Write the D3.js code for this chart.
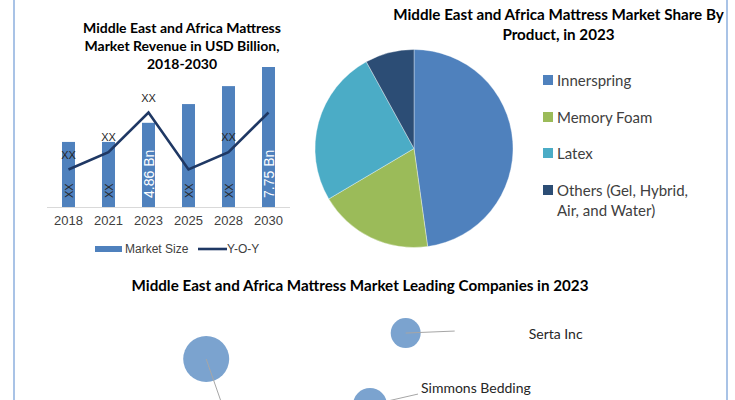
<!DOCTYPE html>
<html>
<head>
<meta charset="utf-8">
<script src="https://cdn.jsdelivr.net/npm/d3@7"></script>
<style>
  html, body { margin: 0; padding: 0; background: #fff; }
  svg { display: block; }
</style>
</head>
<body>
<svg id="chart" width="735" height="400"></svg>
<script>
// ---------- DATA ----------
const years = ["2018", "2021", "2023", "2025", "2028", "2030"];
const marketSize = [3.87, 3.87, 4.86, 5.83, 6.76, 7.75];
const marketLabels = ["XX", "XX", "4.86 Bn", "XX", "XX", "7.75 Bn"];
const yoy = [2.5, 3.65, 6.3, 2.5, 3.65, 6.3];
const yoyLabels = ["XX", "XX", "XX", "", "XX", ""];

const products = ["Innerspring", "Memory Foam", "Latex", "Others (Gel, Hybrid,|Air, and Water)"];
const productShare = [47.8, 18.7, 25.5, 8.0];

const companies = ["", "Serta Inc", "Simmons Bedding"];
const companyX = [2.66, 5.51, 5.0];
const companyY = [5.4, 7.13, 2.33];
const companySize = [10, 4.25, 5.46];

// ---------- STYLE ----------
const barColor = "#4f81bd";
const lineColor = "#1f3864";
const pieColors = ["#4f81bd", "#9bbb59", "#4bacc6", "#2c4d75"];
const bubbleColor = "#7ba3cf";
const titleFont = "Lato, 'Open Sans', sans-serif";
const axisFont = "'Liberation Sans', Arial, sans-serif";

const svg = d3.select("#chart");
svg.append("rect").attr("width", 735).attr("height", 400).attr("fill", "#fff");

// frame lines
svg.append("line").attr("x1", 14).attr("x2", 14).attr("y1", 0).attr("y2", 400)
  .attr("stroke", "#a9c3e6").attr("stroke-width", 2);
svg.append("line").attr("x1", 727).attr("x2", 727).attr("y1", 0).attr("y2", 400)
  .attr("stroke", "#a9c3e6").attr("stroke-width", 2);

// ---------- BAR + LINE CHART ----------
const g1 = svg.append("g");
["Middle East and Africa Mattress", "Market Revenue in USD Billion,", "2018-2030"].forEach((t, i) => {
  g1.append("text").attr("x", 182).attr("y", 27 + i * 18.3)
    .attr("text-anchor", "middle").attr("dominant-baseline", "central")
    .attr("font-family", titleFont).attr("font-weight", "bold").attr("font-size", 14)
    .attr("fill", "#000").text(t);
});

const x = d3.scaleBand().domain(years).range([48.5, 288.5]).paddingInner(0.675).paddingOuter(0.3375);
const y = d3.scaleLinear().domain([0.5, 7.75]).range([207, 67]);
const y2 = d3.scaleLinear().domain([0, 10]).range([207, 57]);

g1.selectAll("rect.bar").data(years).join("rect").attr("class", "bar")
  .attr("x", d => x(d)).attr("width", x.bandwidth())
  .attr("y", (d, i) => y(marketSize[i]))
  .attr("height", (d, i) => y(0.5) - y(marketSize[i]))
  .attr("fill", barColor);

// x axis
const xAxis = g1.append("g").attr("transform", "translate(0,207)")
  .call(d3.axisBottom(x).tickSize(0).tickPadding(9));
xAxis.select(".domain").remove();
g1.append("line").attr("x1", 47).attr("x2", 290).attr("y1", 207.5).attr("y2", 207.5)
  .attr("stroke", "#d9d9d9").attr("stroke-width", 1);
xAxis.selectAll("text").attr("font-family", axisFont).attr("font-size", 13)
  .attr("fill", "#404040");

// bar labels (inside base, rotated)
g1.selectAll("text.blab").data(years).join("text").attr("class", "blab")
  .attr("transform", d => `translate(${x(d) + x.bandwidth() / 2},198) rotate(-90)`)
  .attr("text-anchor", "start").attr("dominant-baseline", "central")
  .attr("font-family", axisFont)
  .attr("font-size", (d, i) => marketLabels[i] === "XX" ? 11 : 14)
  .attr("fill", (d, i) => marketLabels[i] === "XX" ? "#262626" : "#fff")
  .text((d, i) => marketLabels[i]);

// yoy line
const line = d3.line().x((d, i) => x(years[i]) + x.bandwidth() / 2).y(d => y2(d));
g1.append("path").datum(yoy).attr("d", line).attr("fill", "none")
  .attr("stroke", lineColor).attr("stroke-width", 2.6).attr("stroke-linejoin", "miter");

g1.selectAll("text.ylab").data(years).join("text").attr("class", "ylab")
  .attr("x", d => x(d) + x.bandwidth() / 2)
  .attr("y", (d, i) => y2(yoy[i]) - 15)
  .attr("text-anchor", "middle").attr("dominant-baseline", "central")
  .attr("font-family", axisFont).attr("font-size", 11).attr("fill", "#262626")
  .text((d, i) => yoyLabels[i]);

// legend
g1.append("rect").attr("x", 95).attr("y", 246).attr("width", 27).attr("height", 6).attr("fill", barColor);
g1.append("text").attr("x", 125).attr("y", 249).attr("dominant-baseline", "central")
  .attr("font-family", axisFont).attr("font-size", 12).attr("fill", "#404040").text("Market Size");
g1.append("line").attr("x1", 198).attr("x2", 227).attr("y1", 249).attr("y2", 249)
  .attr("stroke", lineColor).attr("stroke-width", 2.6);
g1.append("text").attr("x", 227).attr("y", 249).attr("dominant-baseline", "central")
  .attr("font-family", axisFont).attr("font-size", 12).attr("fill", "#404040").text("Y-O-Y");

// ---------- PIE ----------
const g2 = svg.append("g");
["Middle East and Africa Mattress Market Share By", "Product, in 2023"].forEach((t, i) => {
  g2.append("text").attr("x", 558.5).attr("y", 14 + i * 20)
    .attr("text-anchor", "middle").attr("dominant-baseline", "central")
    .attr("font-family", titleFont).attr("font-weight", "bold").attr("font-size", 15.2)
    .attr("fill", "#000").text(t);
});
const pie = d3.pie().sort(null).value(d => d);
const arc = d3.arc().innerRadius(0).outerRadius(99);
const pieG = g2.append("g").attr("transform", "translate(414,148.5)");
pieG.selectAll("path").data(pie(productShare)).join("path")
  .attr("d", arc).attr("fill", (d, i) => pieColors[i])
  .attr("stroke", "#fff").attr("stroke-width", 0.6).attr("stroke-opacity", 0.6);

const legY = [80, 117, 153, 190];
products.forEach((p, i) => {
  g2.append("rect").attr("x", 543).attr("y", legY[i] - 5).attr("width", 10).attr("height", 10)
    .attr("fill", pieColors[i]);
  p.split("|").forEach((ln, j) => {
    g2.append("text").attr("x", 557).attr("y", legY[i] + j * 20)
      .attr("dominant-baseline", "central")
      .attr("font-family", titleFont).attr("font-size", 15).attr("fill", "#404040").text(ln);
  });
});

// ---------- BUBBLES ----------
const g3 = svg.append("g");
g3.append("text").attr("x", 360).attr("y", 285).attr("text-anchor", "middle")
  .attr("dominant-baseline", "central").attr("font-family", titleFont)
  .attr("font-weight", "bold").attr("font-size", 15.2).attr("fill", "#000")
  .text("Middle East and Africa Mattress Market Leading Companies in 2023");

const bx = d3.scaleLinear().domain([0, 10]).range([20, 720]);
const by = d3.scaleLinear().domain([0, 10]).range([440, 290]);
const br = d3.scaleSqrt().domain([0, 10]).range([0, 23]);
const labelOffsets = [[15, 43], [49, -2], [48, -11]];
const textOffsets = [[0, 60], [123, 0], [51, -18]];

companies.forEach((c, i) => {
  const cx = bx(companyX[i]), cy = by(companyY[i]);
  g3.append("circle").attr("cx", cx).attr("cy", cy).attr("r", br(companySize[i]))
    .attr("fill", bubbleColor);
  g3.append("line").attr("x1", cx).attr("y1", cy)
    .attr("x2", cx + labelOffsets[i][0]).attr("y2", cy + labelOffsets[i][1])
    .attr("stroke", "#a6a6a6").attr("stroke-width", 1);
  if (c) {
    g3.append("text").attr("x", cx + textOffsets[i][0]).attr("y", cy + textOffsets[i][1])
      .attr("dominant-baseline", "central").attr("font-family", titleFont)
      .attr("font-size", 14).attr("fill", "#262626").text(c);
  }
});
</script>
</body>
</html>
